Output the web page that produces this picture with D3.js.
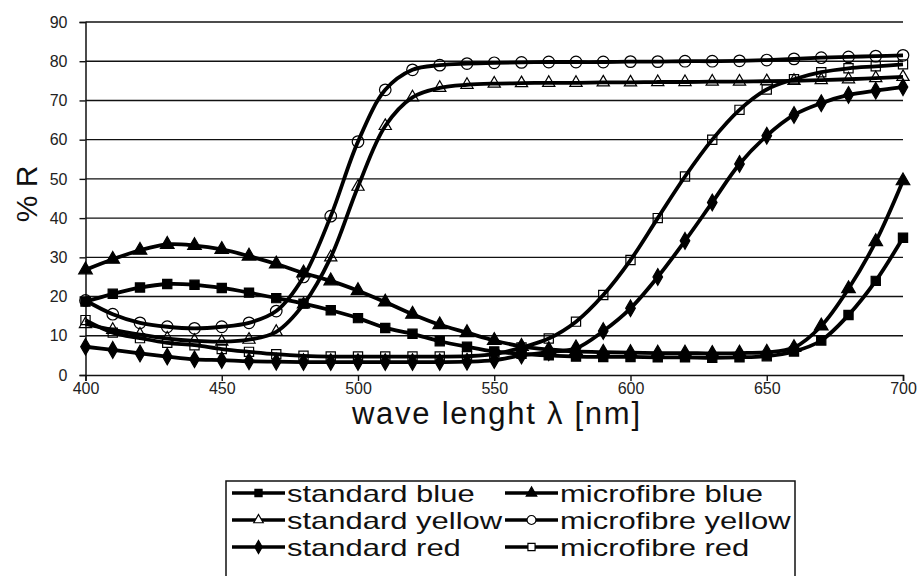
<!DOCTYPE html>
<html><head><meta charset="utf-8">
<script src="https://cdn.jsdelivr.net/npm/d3@7/dist/d3.min.js"></script>
<style>body{margin:0;background:#fff}svg{display:block}</style>
</head><body><svg id="c" width="920" height="576"></svg>
<script>
const wavelengths = [400,410,420,430,440,450,460,470,480,490,500,510,520,530,540,550,560,570,580,590,600,610,620,630,640,650,660,670,680,690,700];
const standardBlue = [18.7,20.7,22.3,23.2,23.0,22.2,21.0,19.6,18.2,16.5,14.5,12.0,10.5,8.6,7.2,6.0,5.4,5.0,4.7,4.6,4.6,4.5,4.5,4.4,4.5,4.8,6.0,8.8,15.3,24.0,35.0];
const microfibreBlue = [26.8,29.5,31.8,33.3,33.0,32.0,30.3,28.3,26.0,24.0,21.5,18.6,15.5,12.8,10.8,8.8,7.3,6.5,6.0,5.8,5.7,5.6,5.6,5.5,5.6,5.8,7.0,12.5,22.0,34.0,49.5];
const standardYellow = [13.0,11.5,10.3,9.3,8.7,8.5,9.0,11.0,18.0,30.0,48.0,63.5,70.8,73.2,74.0,74.3,74.4,74.5,74.5,74.6,74.6,74.7,74.7,74.8,74.8,74.9,75.0,75.2,75.4,75.7,76.0];
const microfibreYellow = [19.0,15.5,13.3,12.3,11.9,12.3,13.3,16.3,25.0,40.5,59.5,72.7,77.8,79.0,79.4,79.6,79.7,79.8,79.8,79.8,79.9,79.9,80.0,80.0,80.1,80.3,80.6,80.9,81.1,81.3,81.5];
const standardRed = [7.2,6.4,5.5,4.7,4.0,3.8,3.5,3.4,3.3,3.3,3.3,3.3,3.3,3.3,3.4,3.8,5.0,5.8,6.8,11.2,17.0,25.0,34.2,44.0,53.8,61.0,66.3,69.3,71.4,72.5,73.4];
const microfibreRed = [14.0,10.8,9.4,8.2,7.6,6.6,5.9,5.3,4.9,4.7,4.7,4.7,4.7,4.7,4.8,5.3,7.0,9.3,13.6,20.4,29.3,40.0,50.6,60.0,67.6,72.8,75.4,77.2,78.2,78.7,79.2];
const seriesNames = ["standard blue","microfibre blue","standard yellow","microfibre yellow","standard red","microfibre red"];
const yTicks = [0,10,20,30,40,50,60,70,80,90];
const xTicks = [400,450,500,550,600,650,700];

const seriesValues = [standardBlue, microfibreBlue, standardYellow, microfibreYellow, standardRed, microfibreRed];
const markerDefs = [
  {type: d3.symbolSquare, size: 85, fill: "#000"},
  {type: d3.symbolTriangle, size: 80, fill: "#000"},
  {type: d3.symbolTriangle, size: 65, fill: "none"},
  {type: d3.symbolCircle, size: 105, fill: "none"},
  {type: d3.symbolDiamond, size: 80, fill: "#000"},
  {type: d3.symbolSquare, size: 85, fill: "none"}
];

const svg = d3.select("#c");
const font = "'Liberation Sans', Arial, sans-serif";
const x = d3.scaleLinear().domain([400,700]).range([85.5,903]);
const y = d3.scaleLinear().domain([0,90]).range([375,22]);

// gridlines
svg.append("g").selectAll("line").data(yTicks.filter(d=>d>0)).join("line")
  .attr("x1", x(400)).attr("x2", x(700)).attr("y1", d=>y(d)).attr("y2", d=>y(d))
  .attr("stroke", "#111").attr("stroke-width", 1.4);

// axes
const yAxis = svg.append("g").attr("transform", `translate(${x(400)},0)`)
  .call(d3.axisLeft(y).tickValues(yTicks).tickSize(6).tickPadding(12).tickFormat(d3.format("d")));
const xAxis = svg.append("g").attr("transform", `translate(0,${y(0)})`)
  .call(d3.axisBottom(x).tickValues(xTicks).tickSize(6).tickPadding(2).tickFormat(d3.format("d")));
[yAxis, xAxis].forEach(g => {
  g.select(".domain").attr("stroke", "#111").attr("stroke-width", 1.5);
  g.selectAll(".tick line").attr("stroke", "#111").attr("stroke-width", 1.4);
  g.selectAll("text").attr("font-family", font).attr("font-size", 16).attr("fill", "#222");
});

// series
const line = d3.line().x((d,i)=>x(wavelengths[i])).y(d=>y(d)).curve(d3.curveCatmullRom.alpha(0.5));
seriesValues.forEach((vals) => {
  svg.append("path").attr("d", line(vals)).attr("fill", "none")
    .attr("stroke", "#000").attr("stroke-width", 3.8).attr("stroke-linejoin", "round");
});
seriesValues.forEach((vals, si) => {
  const m = markerDefs[si];
  svg.append("g").selectAll("path").data(vals).join("path")
    .attr("transform", (d,i)=>`translate(${x(wavelengths[i])},${y(d)})`)
    .attr("d", d3.symbol().type(m.type).size(m.size))
    .attr("fill", m.fill).attr("stroke", "#000").attr("stroke-width", 1.2);
});

// axis titles
svg.append("text").attr("transform", "translate(37,194) rotate(-90)")
  .attr("text-anchor", "middle").attr("font-family", font).attr("font-size", 30).attr("fill", "#111")
  .text("% R");
svg.append("text").attr("x", 352).attr("y", 424)
  .attr("font-family", font).attr("font-size", 31).attr("fill", "#111")
  .attr("textLength", 288).attr("lengthAdjust", "spacing")
  .text("wave lenght \u03BB [nm]");

// legend
const lg = svg.append("g");
lg.append("rect").attr("x", 226).attr("y", 481).attr("width", 569).attr("height", 120)
  .attr("fill", "#fff").attr("stroke", "#111").attr("stroke-width", 1.5);
const legendOrder = [0,2,4,1,3,5];
legendOrder.forEach((si, k) => {
  const col = Math.floor(k/3), row = k%3;
  const lx = col === 0 ? 232 : 505;
  const ly = 493 + row*27;
  lg.append("line").attr("x1", lx).attr("x2", lx+53).attr("y1", ly).attr("y2", ly)
    .attr("stroke", "#000").attr("stroke-width", 3.5);
  const m = markerDefs[si];
  lg.append("path").attr("transform", `translate(${lx+26.5},${ly})`)
    .attr("d", d3.symbol().type(m.type).size(m.size*0.6))
    .attr("fill", m.fill === "none" ? "#fff" : m.fill).attr("stroke", "#000").attr("stroke-width", 1.2);
  const t = lg.append("text").attr("x", lx+55).attr("y", ly+9).attr("font-family", font)
    .attr("font-size", 24).attr("fill", "#111").text(seriesNames[si]);
  const w = t.node().getComputedTextLength();
  t.attr("textLength", w * 1.29).attr("lengthAdjust", "spacingAndGlyphs");
});
</script></body></html>
